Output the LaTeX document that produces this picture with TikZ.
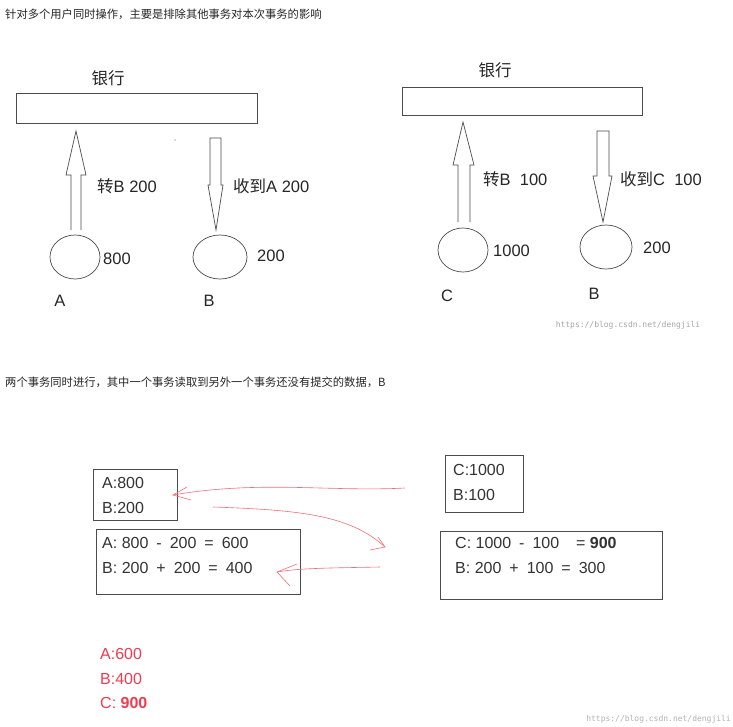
\documentclass[tikz,border=0pt]{standalone}
\usepackage{fontspec}
\setmainfont{Liberation Sans}
\newfontfamily\cjk{Noto Sans CJK SC}
\newfontfamily\wm{DejaVu Sans Mono}
\newcommand{\gp}{\hspace{8pt}}
\begin{document}
\begin{tikzpicture}[x=1pt,y=-1pt,
  ln/.style={draw=black!70,line width=0.7pt},
  box/.style={draw=black!70,line width=0.7pt},
  lab/.style={font=\fontsize{16.5}{18}\selectfont,text=black!85,inner sep=0pt},
  small/.style={font=\cjk\fontsize{11.3}{13}\selectfont,text=black!85,inner sep=0pt,anchor=west},
  bt/.style={font=\fontsize{16}{18}\selectfont,text=black!80,inner sep=0pt,anchor=west},
  rt/.style={font=\fontsize{16}{18}\selectfont,text={rgb,255:red,240;green,60;blue,80},inner sep=0pt,anchor=west},
  red/.style={draw={rgb,255:red,240;green,110;blue,120},line width=0.6pt}]
\useasboundingbox[fill=white] (0,0) rectangle (733,726);
\node[small] (t1) at (5,14) {针对多个用户同时操作，主要是排除其他事务对本次事务的影响};
\node[small] (t2) at (5,382) {两个事务同时进行，其中一个事务读取到另外一个事务还没有提交的数据，B};
% left bank
\node[lab] (bank1) at (108,78) {\cjk 银行};
\draw[box] (16,93) rectangle (257,123);
\draw[ln] (71,230) -- (71,175) -- (66,175) -- (76,131) -- (86,175) -- (81,175) -- (81,230);
\draw[ln] (210,138) -- (221,138) -- (221,185) -- (223,185) -- (216,230) -- (208,185) -- (210,185) -- cycle;
\node[lab,anchor=west] (l1) at (97,186) {{\cjk 转}B 200};
\node[lab,anchor=west] (l2) at (233,186) {{\cjk 收到}A 200};
\draw[ln] (75,257) ellipse[x radius=25,y radius=22];
\draw[ln] (220,257) ellipse[x radius=27,y radius=22];
\node[lab,anchor=west] (v1) at (103,259) {800};
\node[lab,anchor=west] (v2) at (257,256) {200};
\node[lab] (A) at (60,301) {A};
\node[lab] (B1) at (209,301) {B};
\fill[black!60] (175,140) circle (0.7);
% right bank
\node[lab] (bank2) at (495,70) {\cjk 银行};
\draw[box] (402,87) rectangle (642,115);
\draw[ln] (458,222) -- (458,165) -- (453,165) -- (463,122) -- (474,165) -- (470,165) -- (470,222);
\draw[ln] (597,131) -- (609,131) -- (609,176) -- (612,176) -- (603,222) -- (593,176) -- (597,176) -- cycle;
\node[lab,anchor=west] (l3) at (483,179) {{\cjk 转}B\ \ 100};
\node[lab,anchor=west] (l4) at (620,179) {{\cjk 收到}C\ \ 100};
\draw[ln] (463,250) ellipse[x radius=25,y radius=22];
\draw[ln] (606,247) ellipse[x radius=26,y radius=22];
\node[lab,anchor=west] (v3) at (493,251) {1000};
\node[lab,anchor=west] (v4) at (643,248) {200};
\node[lab] (C) at (447,296) {C};
\node[lab] (B2) at (594,294) {B};
\node[font=\wm\fontsize{8}{9}\selectfont,text=black!35,inner sep=0pt] (w1) at (628,325) {https://blog.csdn.net/dengjili};
% bottom boxes
\draw[box] (93,469) rectangle (177,520);
\node[bt] at (102,483) {A:800};
\node[bt] at (102,508) {B:200};
\draw[box] (445,455) rectangle (523,512);
\node[bt] at (453,470) {C:1000};
\node[bt] at (453,495) {B:100};
\draw[box] (96,529) rectangle (300,594);
\node[bt] at (102,543) {A: 800\gp-\gp200\gp=\gp600};
\node[bt] at (102,568) {B: 200\gp+\gp200\gp=\gp400};
\draw[box] (440,531) rectangle (662,599);
\node[bt] at (455,543) {C: 1000\gp-\gp100\gp\ \ = \textbf{900}};
\node[bt] at (455,568) {B: 200\gp+\gp100\gp=\gp300};
% red arrows
\draw[red] (405,488) .. controls (330,492) and (260,480) .. (173,495);
\draw[red] (187,487) -- (173,495) -- (191,500);
\draw[red] (213,507) .. controls (300,510) and (350,515) .. (385,547);
\draw[red] (378,537) -- (385,547) -- (370,550);
\draw[red] (380,567) .. controls (330,568) and (300,568) .. (277,572);
\draw[red] (297,564) -- (277,572) -- (290,586);
\node[rt] at (100,654) {A:600};
\node[rt] at (100,679) {B:400};
\node[rt] at (100,703) {C: \textbf{900}};
\node[font=\wm\fontsize{8}{9}\selectfont,text=black!30,inner sep=0pt,anchor=east] (w2) at (731,719) {https://blog.csdn.net/dengjili};
\end{tikzpicture}
\end{document}
